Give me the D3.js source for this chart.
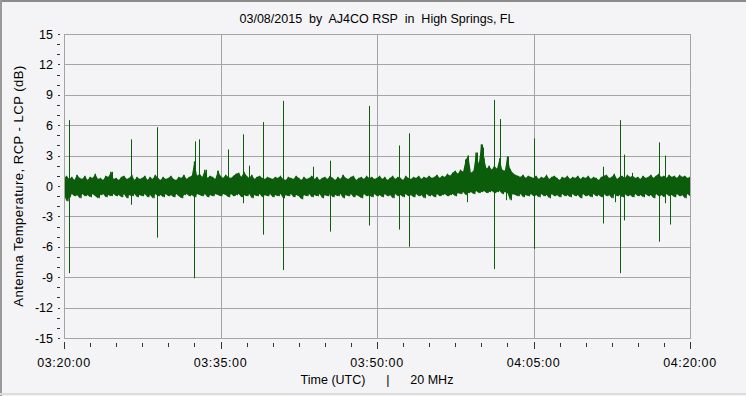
<!DOCTYPE html>
<html>
<head>
<meta charset="utf-8">
<script src="https://cdn.jsdelivr.net/npm/d3@7"></script>
<style>
  body { margin: 0; background: #f4f4f6; }
  svg text { font-family: "Liberation Sans", Arial, sans-serif; white-space: pre; fill: #000; }
</style>
</head>
<body>
<div id="chart"></div>
<script>
// minutes after 03:20:00 UTC
const timeDomain = [0, 60];
const sampleStep = 0.25;

// noise band, upper and lower excursion per sample (dB)
const bandHi = [
  0.8, 1.0, 0.7, 0.9, 0.6, 1.1, 0.8, 0.7, 1.0, 0.6, 0.9, 0.8, 1.2, 0.7, 0.8, 0.6, 1.0, 0.9, 1.4, 0.7,
  0.8, 0.6, 0.9, 1.0, 0.7, 0.8, 1.1, 0.6, 0.9, 0.7, 0.8, 1.0, 0.6, 0.9, 0.7, 1.1, 0.8, 0.6, 0.9, 0.7,
  0.8, 1.0, 0.7, 0.6, 0.9, 0.8, 1.1, 0.7, 0.9, 1.0, 2.4, 1.0, 1.2, 0.9, 1.6, 0.8, 1.0, 0.9, 0.7, 1.5,
  1.0, 0.8, 1.1, 0.9, 0.8, 1.0, 1.2, 1.3, 0.9, 1.4, 1.0, 0.8, 1.1, 0.7, 0.9, 1.0, 0.8, 0.7, 0.9, 0.8,
  0.7, 0.9, 0.8, 1.0, 0.7, 0.6, 0.9, 0.8, 0.7, 1.0, 0.8, 0.6, 0.9, 0.7, 0.8, 1.0, 0.7, 0.9, 0.6, 0.8,
  0.9, 0.7, 1.0, 0.8, 0.6, 0.9, 0.7, 1.1, 0.8, 0.7, 0.9, 1.0, 0.6, 0.8, 0.9, 0.7, 1.0, 0.8, 0.9, 0.7,
  0.8, 1.0, 0.7, 0.9, 0.6, 0.8, 1.0, 0.7, 0.9, 0.8, 0.6, 1.0, 0.8, 0.7, 0.9, 0.8, 1.0, 0.7, 0.9, 0.8,
  1.0, 0.8, 0.9, 1.1, 0.8, 1.0, 0.9, 1.2, 1.0, 1.3, 1.5, 1.2, 1.6, 1.4, 2.6, 3.0, 1.3, 1.5, 3.3, 2.2,
  4.1, 2.8, 1.7, 2.0, 1.6, 2.0, 1.7, 2.7, 1.6, 1.5, 2.9, 1.7, 1.3, 1.1, 1.0, 0.9, 1.1, 0.8, 1.0, 0.9,
  0.8, 1.0, 0.7, 0.9, 0.8, 1.1, 0.7, 0.9, 1.0, 0.8, 0.6, 0.9, 0.8, 1.0, 0.7, 0.9, 0.8, 1.0, 0.7, 0.9,
  0.8, 1.0, 0.7, 0.9, 0.8, 0.6, 0.9, 1.0, 1.1, 0.8, 0.9, 1.2, 0.7, 0.9, 1.0, 0.8, 1.1, 0.9, 1.0, 0.8,
  0.9, 0.7, 1.0, 0.8, 0.9, 1.1, 0.8, 1.0, 1.2, 0.9, 1.0, 0.8, 1.1, 0.9, 1.0, 0.8, 1.1, 0.9, 1.0, 0.8,
  0.9
];
const bandLo = [
  -0.9, -1.5, -1.1, -0.8, -1.0, -0.9, -1.2, -0.8, -1.0, -0.9, -1.1, -0.8, -1.0, -1.2, -0.9, -0.8, -1.1, -0.9, -1.0, -0.8,
  -1.0, -0.9, -1.1, -0.8, -1.2, -0.9, -1.0, -0.8, -1.1, -0.9, -1.0, -0.8, -1.1, -0.9, -1.2, -0.8, -1.0, -0.9, -1.1, -0.8,
  -1.0, -0.9, -1.1, -0.8, -1.0, -1.2, -0.9, -0.8, -1.0, -0.9, -1.1, -0.8, -0.9, -1.0, -0.8, -1.1, -0.9, -1.0, -0.8, -0.9,
  -1.0, -0.8, -0.9, -1.1, -0.8, -1.0, -0.9, -0.8, -1.1, -0.9, -1.0, -0.8, -1.2, -0.9, -1.0, -0.8, -1.1, -0.9, -1.0, -0.8,
  -1.1, -0.9, -1.0, -0.8, -1.2, -0.9, -1.0, -0.8, -1.1, -0.9, -1.0, -1.3, -0.9, -1.0, -0.8, -1.1, -0.9, -1.0, -0.8, -1.2,
  -0.9, -1.0, -0.8, -1.1, -0.9, -1.0, -0.8, -1.2, -0.9, -1.0, -0.8, -1.1, -0.9, -1.0, -1.2, -0.8, -1.0, -0.9, -1.1, -0.8,
  -1.0, -0.9, -1.1, -0.8, -1.0, -0.9, -1.2, -0.8, -1.0, -0.9, -1.1, -0.8, -1.0, -0.9, -1.1, -0.8, -1.0, -0.9, -1.2, -0.8,
  -1.0, -0.9, -1.1, -0.8, -1.0, -0.9, -0.8, -1.0, -0.9, -0.8, -1.0, -0.7, -0.8, -0.6, -0.9, -0.7, -0.6, -0.8, -0.5, -0.7,
  -0.6, -0.5, -0.7, -0.6, -0.5, -0.7, -0.6, -0.5, -0.8, -0.6, -0.7, -1.4, -0.8, -0.9, -1.0, -0.8, -1.1, -0.9, -1.0, -0.8,
  -1.0, -0.9, -1.1, -0.8, -1.0, -0.9, -1.2, -0.8, -1.0, -0.9, -1.1, -0.8, -1.0, -0.9, -1.1, -0.8, -1.0, -0.9, -1.2, -0.8,
  -1.0, -0.9, -1.1, -0.8, -1.0, -0.9, -1.1, -0.8, -1.0, -0.9, -1.2, -0.8, -1.0, -0.9, -1.1, -0.8, -1.0, -0.9, -1.1, -0.8,
  -1.0, -0.9, -1.1, -0.8, -1.0, -0.9, -1.2, -0.8, -1.0, -0.9, -1.1, -0.8, -1.0, -0.9, -1.1, -0.8, -1.0, -0.9, -1.2, -0.8,
  -1.0
];

// single-sample bursts: time (min), peak and trough (dB)
const spikeTimes = [0.51, 4.57, 6.45, 8.94, 12.49, 12.59, 12.94, 13.58, 14.76, 15.75, 17.19, 17.76, 19.1, 21.02, 23.9,
  25.52, 29.26, 32.14, 33.1, 38.6, 39.56, 40.04, 40.19, 41.24, 41.69, 41.82, 42.37, 42.59, 45.07, 51.69, 52.81,
  53.32, 53.7, 54.47, 57.06, 57.63, 58.11];
const spikeHigh = [6.5, 1.4, 4.6, 5.8, 2.4, 4.4, 4.6, 1.6, 1.5, 3.6, 5.1, 2.0, 6.3, 8.4, 1.9,
  2.5, 7.9, 4.0, 5.2, 0, 3.3, 4.1, 3.8, 8.5, 2.7, 6.6, 0, 2.9, 4.7, 1.9, 0,
  6.5, 3.1, 1.3, 4.3, 3.0, 0];
const spikeLow = [-8.6, 0, -1.85, -5.1, -9.1, 0, 0, 0, 0, 0, -1.7, 0, -4.8, -8.3, 0,
  -4.5, -3.9, -4.3, -6.0, -1.6, 0, 0, 0, -8.2, 0, 0, -1.4, 0, -6.2, -3.7, -1.6,
  -8.6, -3.4, 0, -5.5, -1.7, -3.8];

const yMajorTicks = [-15, -12, -9, -6, -3, 0, 3, 6, 9, 12, 15];
const xMajorTicks = [0, 15, 30, 45, 60];
const xTickLabels = ["03:20:00", "03:35:00", "03:50:00", "04:05:00", "04:20:00"];

const width = 746, height = 396;
const margin = { top: 34, right: 56, bottom: 58, left: 64 };

const svg = d3.select('#chart').append('svg')
  .attr('width', width)
  .attr('height', height);

// outer frame
svg.append('rect').attr('width', width).attr('height', height).attr('fill', '#f4f4f6');
svg.append('line').attr('x1', 0).attr('x2', width).attr('y1', 1).attr('y2', 1).attr('stroke', '#8a8a8a').attr('stroke-width', 2);
svg.append('line').attr('x1', 1).attr('x2', 1).attr('y1', 0).attr('y2', height).attr('stroke', '#9a9a9a').attr('stroke-width', 2);
svg.append('line').attr('x1', 0).attr('x2', width).attr('y1', 394).attr('y2', 394).attr('stroke', '#dcdcdc').attr('stroke-width', 2);

const x = d3.scaleLinear().domain(timeDomain).range([margin.left, width - margin.right]);
const y = d3.scaleLinear().domain([-15, 15]).range([height - margin.bottom, margin.top]);

// grid
svg.append('g')
  .selectAll('line')
  .data(yMajorTicks)
  .enter().append('line')
  .attr('x1', x(0)).attr('x2', x(60))
  .attr('y1', d => Math.round(y(d)) + 0.5).attr('y2', d => Math.round(y(d)) + 0.5)
  .attr('stroke', '#a4a4a4');

svg.append('g')
  .selectAll('line')
  .data(xMajorTicks)
  .enter().append('line')
  .attr('x1', d => Math.round(x(d)) + 0.5).attr('x2', d => Math.round(x(d)) + 0.5)
  .attr('y1', y(15)).attr('y2', y(-15))
  .attr('stroke', '#a4a4a4');

// y ticks, detached from the frame
const yMinor = d3.range(-15, 16, 1);
svg.append('g')
  .selectAll('line')
  .data(yMinor)
  .enter().append('line')
  .attr('x1', d => d % 3 === 0 ? 58 : 57).attr('x2', 60)
  .attr('y1', d => Math.round(y(d)) + 0.5).attr('y2', d => Math.round(y(d)) + 0.5)
  .attr('stroke', '#333');

svg.append('g')
  .selectAll('text')
  .data(yMajorTicks)
  .enter().append('text')
  .attr('x', 53)
  .attr('y', d => y(d) + 4.5)
  .attr('text-anchor', 'end')
  .style('font-size', '12.5px')
  .text(d => d);

// x ticks
const xMinor = d3.range(0, 60.01, 2.5);
svg.append('g')
  .selectAll('line')
  .data(xMinor)
  .enter().append('line')
  .attr('x1', d => Math.round(x(d)) + 0.5).attr('x2', d => Math.round(x(d)) + 0.5)
  .attr('y1', d => d % 15 === 0 ? 342 : 343)
  .attr('y2', d => d % 15 === 0 ? 349 : 347)
  .attr('stroke', '#333');

svg.append('g')
  .selectAll('text')
  .data(xMajorTicks)
  .enter().append('text')
  .attr('x', d => x(d))
  .attr('y', 367)
  .attr('text-anchor', 'middle')
  .style('font-size', '12.5px')
  .style('letter-spacing', '0.6px')
  .text((d, i) => xTickLabels[i]);

// titles
svg.append('text')
  .attr('x', x(30)).attr('y', 23)
  .attr('text-anchor', 'middle')
  .style('font-size', '12.5px')
  .text('03/08/2015  by  AJ4CO RSP  in  High Springs, FL');

svg.append('text')
  .attr('x', x(30)).attr('y', 384)
  .attr('text-anchor', 'middle')
  .style('font-size', '12.5px')
  .text('Time (UTC)      |      20 MHz');

svg.append('text')
  .attr('transform', `translate(23,${y(0)}) rotate(-90)`)
  .attr('text-anchor', 'middle')
  .style('font-size', '13px')
  .style('letter-spacing', '0.5px')
  .text('Antenna Temperature, RCP - LCP (dB)');

// data
svg.append('clipPath').attr('id', 'plotclip')
  .append('rect')
  .attr('x', x(0)).attr('y', y(15))
  .attr('width', x(60) - x(0)).attr('height', y(-15) - y(15));

const plot = svg.append('g').attr('clip-path', 'url(#plotclip)');

const green = '#0b5c0b';

// solid body of the band
const bandArea = d3.area()
  .x((d, i) => x(i * sampleStep))
  .y0((d, i) => y(bandLo[i]))
  .y1(d => y(d));

plot.append('path')
  .attr('d', bandArea(bandHi))
  .attr('fill', green);

// jagged trace over it
const bandPoints = [];
bandHi.forEach((v, i) => {
  bandPoints.push([i * sampleStep, v]);
  bandPoints.push([i * sampleStep + sampleStep / 2, bandLo[i]]);
});

const linePath = d3.line()
  .x(d => x(d[0]))
  .y(d => y(d[1]));

plot.append('path')
  .attr('d', linePath(bandPoints))
  .attr('fill', 'none')
  .attr('stroke', green)
  .attr('stroke-width', 1);

plot.append('g')
  .selectAll('line')
  .data(spikeTimes)
  .enter().append('line')
  .attr('x1', d => Math.round(x(d)) + 0.5).attr('x2', d => Math.round(x(d)) + 0.5)
  .attr('y1', (d, i) => y(spikeHigh[i]))
  .attr('y2', (d, i) => y(spikeLow[i]))
  .attr('stroke', green)
  .attr('stroke-width', 1);

// frame of the plot
svg.append('rect')
  .attr('x', x(0) + 0.5).attr('y', y(15) + 0.5)
  .attr('width', x(60) - x(0)).attr('height', y(-15) - y(15))
  .attr('fill', 'none')
  .attr('stroke', '#a4a4a4');
</script>
</body>
</html>
